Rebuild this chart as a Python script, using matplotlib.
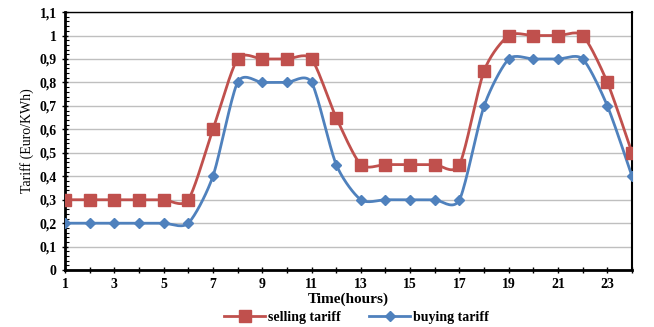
import matplotlib
matplotlib.use('Agg')
import matplotlib.pyplot as plt
from matplotlib.ticker import FuncFormatter, MultipleLocator
import numpy as np

hours = list(range(1, 25))
selling = [0.3, 0.3, 0.3, 0.3, 0.3, 0.3, 0.6, 0.9, 0.9, 0.9, 0.9, 0.65,
           0.45, 0.45, 0.45, 0.45, 0.45, 0.85, 1.0, 1.0, 1.0, 1.0, 0.8, 0.5]
buying = [0.2, 0.2, 0.2, 0.2, 0.2, 0.2, 0.4, 0.8, 0.8, 0.8, 0.8, 0.45,
          0.3, 0.3, 0.3, 0.3, 0.3, 0.7, 0.9, 0.9, 0.9, 0.9, 0.7, 0.4]

red = '#C0504D'
blue = '#4F81BD'


# Excel-like smoothed line (cubic bezier through the points)
def smooth(x, y, n=20, k=8.0):
    x = np.asarray(x, float)
    y = np.asarray(y, float)
    px = np.concatenate([[x[0]], x, [x[-1]]])
    py = np.concatenate([[y[0]], y, [y[-1]]])
    xs, ys = [], []
    t = np.linspace(0, 1, n)
    for i in range(1, len(px) - 2):
        p0 = np.array([px[i], py[i]])
        p3 = np.array([px[i + 1], py[i + 1]])
        p1 = p0 + (np.array([px[i + 1], py[i + 1]]) - np.array([px[i - 1], py[i - 1]])) / k
        p2 = p3 - (np.array([px[i + 2], py[i + 2]]) - np.array([px[i], py[i]])) / k
        b = ((1 - t) ** 3)[:, None] * p0 + (3 * (1 - t) ** 2 * t)[:, None] * p1 \
            + (3 * (1 - t) * t ** 2)[:, None] * p2 + (t ** 3)[:, None] * p3
        xs.extend(b[:, 0])
        ys.extend(b[:, 1])
    return xs, ys


plt.rcParams['font.family'] = ['Liberation Serif', 'DejaVu Serif']
plt.rcParams['font.weight'] = 'bold'

fig = plt.figure(figsize=(6.54, 3.27), dpi=100)
ax = fig.add_axes([0.0994, 0.174, 0.867, 0.789])

sx, sy = smooth(hours, selling)
bx, by = smooth(hours, buying)
ax.plot(sx, sy, color=red, lw=2, zorder=3)
ax.plot(hours, selling, 's', color=red, ms=8, zorder=4)
ax.plot(bx, by, color=blue, lw=2, zorder=3)
ax.plot(hours, buying, 'D', color=blue, ms=5.5, zorder=4)

# legend proxies
ax.plot([], [], '-s', color=red, lw=2, ms=8, label='selling tariff')
ax.plot([], [], '-D', color=blue, lw=2, ms=5.5, label='buying tariff')

ax.set_xlim(1, 24)
ax.set_ylim(0, 1.1)
ax.set_xticks(hours)
ax.set_xticklabels([str(h) if h % 2 == 1 else '' for h in hours])
ax.yaxis.set_major_locator(MultipleLocator(0.1))
ax.yaxis.set_minor_locator(MultipleLocator(0.02))
ax.yaxis.set_major_formatter(FuncFormatter(
    lambda v, p: ('%.1f' % v).rstrip('0').rstrip('.').replace('.', ',') if v > 0 else '0'))
ax.tick_params(axis='both', labelsize=10, direction='inout', length=5, width=1)
ax.tick_params(axis='y', which='minor', direction='in', length=3, width=0.8)
ax.grid(axis='y', color='#BFBFBF', lw=1)
ax.set_axisbelow(True)
for s in ax.spines.values():
    s.set_color('black')
ax.spines['left'].set_linewidth(2)
ax.spines['bottom'].set_linewidth(2)
ax.spines['right'].set_linewidth(1.5)
ax.spines['top'].set_linewidth(1)

ax.set_xlabel('Time(hours)', fontsize=11, fontweight='bold', labelpad=1)
ax.set_ylabel('Tariff (Euro/KWh)', fontsize=10, fontweight='normal', labelpad=4)

h, l = ax.get_legend_handles_labels()
fig.legend(h, l, loc='center', bbox_to_anchor=(0.545, 0.03), ncol=2, frameon=False,
           fontsize=10, handlelength=3, columnspacing=2, handletextpad=0.2,
           borderpad=0)

fig.savefig('out.png', dpi=100)
